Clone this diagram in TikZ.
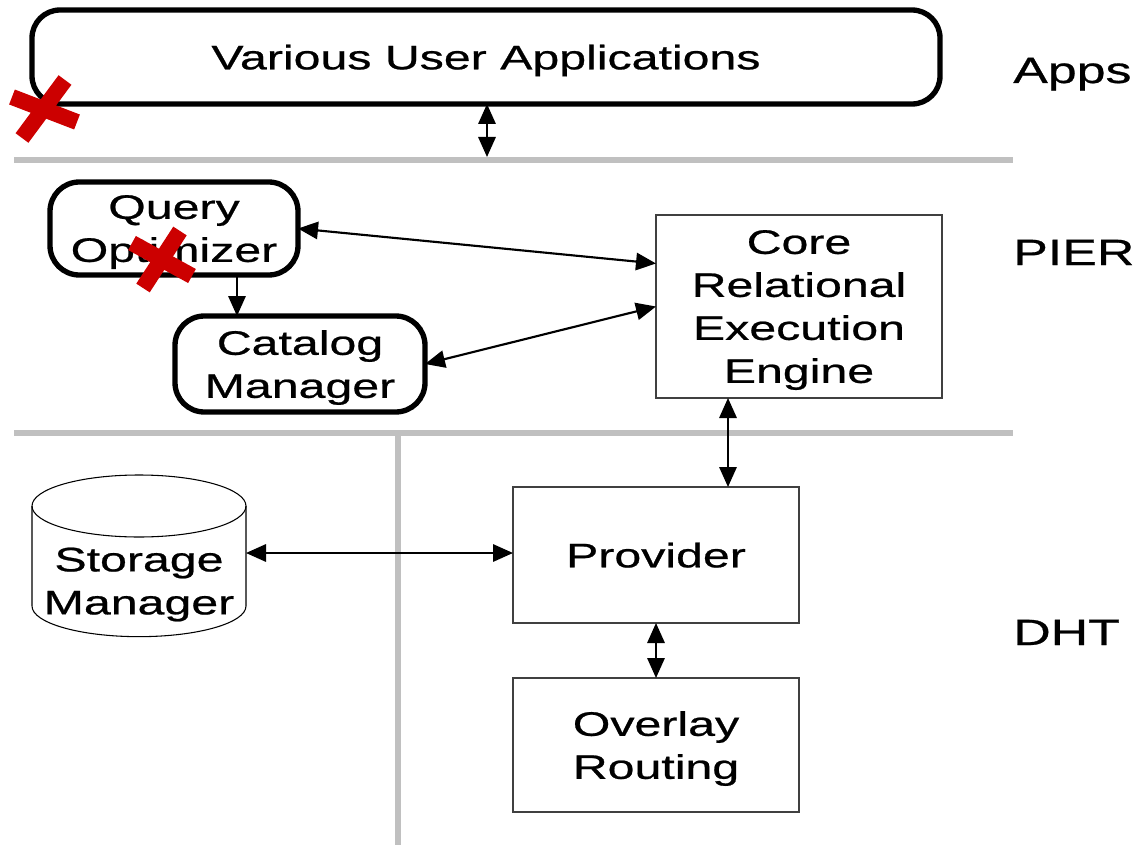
\documentclass[tikz,border=0pt]{standalone}
\usepackage{fontspec}
\setmainfont[FakeStretch=1.42,FakeBold=0.7]{Liberation Sans}
\usetikzlibrary{arrows.meta,calc}
\definecolor{sepgray}{HTML}{C0C0C0}
\definecolor{xred}{HTML}{CC0000}

\begin{document}
\begin{tikzpicture}[x=0.75pt,y=-0.75pt,
  lbl/.style={font=\fontsize{25.5}{32.25}\selectfont, align=center, inner sep=0pt, outer sep=0pt, text depth=0pt},
  side/.style={font=\fontsize{27.4}{30}\selectfont, anchor=base west, inner sep=0pt},
  rbox/.style={lbl, draw=black, line width=4pt, rounded corners=22pt, fill=white},
  sbox/.style={lbl, draw=black!75, line width=1pt, fill=white},
  tip/.tip={Triangle[length=15pt,width=13pt]},
  link/.style={line width=1.6pt, tip-tip},
  onelink/.style={line width=1.6pt, -tip},
  sepline/.style={draw=sepgray, line width=4.8pt},
  cross/.style={draw=xred, line width=12pt}
]
\useasboundingbox (0,0) rectangle (1142,845);

% layer separators
\draw[sepline] (14,160) -- (1013,160);
\draw[sepline] (14,433) -- (1013,433);
\draw[sepline] (398,433) -- (398,845);
\coordinate (pierTop) at (487,157);

% Apps layer
\node[rbox, rounded corners=21pt, minimum width=681pt, minimum height=70.5pt] (apps) at (486,57) {Various User Applications};

% PIER layer
\node[rbox, minimum width=186pt, minimum height=69.75pt] (qo) at (174,228.5) {Query\\Optimizer};
\node[rbox, minimum width=187.5pt, minimum height=72pt] (cat) at (300,364) {Catalog\\Manager};
\node[sbox, minimum width=214.5pt, minimum height=137.25pt] (core) at (799,306.5) {Core\\Relational\\Execution\\Engine};

% DHT layer
\node[sbox, minimum width=214.5pt, minimum height=102pt] (prov) at (656,555) {Provider};
\node[sbox, minimum width=214.5pt, minimum height=100.5pt] (ov) at (656,745) {Overlay\\Routing};

% storage manager cylinder
\node[minimum width=160.5pt, minimum height=121.5pt, inner sep=0pt, outer sep=0pt] (sm) at (139,556) {};
\filldraw[fill=white, draw=black, line width=0.8pt]
  (32,506) -- (32,606) arc[start angle=180, end angle=360, x radius=80.25pt, y radius=23pt] -- (246,506);
\draw[line width=0.8pt] (139,506) ellipse[x radius=80.25pt, y radius=23.25pt];
\node[lbl] (smtext) at (139,581) {Storage\\Manager};

% connectors
\draw[link] (apps.south -| pierTop) -- (pierTop);
\draw[link] (qo.east) -- ([yshift=32.25pt]core.west);
\draw[onelink] ([xshift=47.25pt]qo.south) -- ([xshift=-47.25pt]cat.north);
\draw[link] (cat.east) -- (core.west);
\draw[link] ([xshift=-53.25pt]core.south) -- ([xshift=-53.25pt]core.south |- prov.north);
\draw[link] ([yshift=2.25pt]sm.east) -- ([yshift=2.25pt]sm.east -| prov.west);
\draw[link] (prov.south) -- (ov.north);

% removed components
\draw[cross] (65,80) -- (22,138);
\draw[cross] (12,97) -- (77,122);
\draw[cross] (180,231) -- (143,288);
\draw[cross] (132,243) -- (192,276);

% layer names
\node[side] (lapps) at (1013,83) {Apps};
\node[side] (lpier) at (1013,265) {PIER};
\node[side] (ldht) at (1013,645) {DHT};
\end{tikzpicture}
\end{document}
